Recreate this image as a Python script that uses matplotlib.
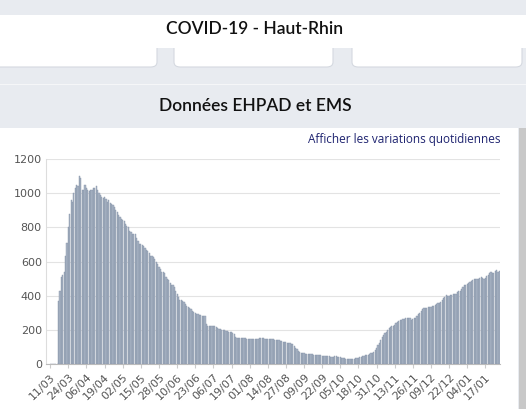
import matplotlib.pyplot as plt
from matplotlib.patches import FancyBboxPatch, Rectangle
import numpy as np

# daily values, 11/03/2020 -> 27/01/2021 (rows of 13 days, one per tick label)
values = [
    0, 0, 0, 0, 0, 0, 370, 430, 510, 520, 540, 630, 710,
    800, 880, 960, 950, 1000, 1030, 1050, 1040, 1100, 1090, 1020, 1020, 1050,
    1030, 1020, 1010, 1020, 1020, 1030, 1030, 1040, 1020, 1000, 990, 980, 970,
    975, 965, 950, 960, 940, 935, 930, 920, 900, 890, 870, 860, 850,
    845, 835, 820, 810, 800, 780, 770, 760, 760, 760, 740, 720, 705,
    700, 695, 690, 680, 670, 660, 650, 635, 630, 625, 615, 600, 585,
    570, 555, 540, 540, 530, 510, 500, 490, 475, 465, 460, 450, 430,
    410, 390, 375, 375, 370, 365, 350, 340, 335, 330, 320, 310, 305,
    300, 295, 290, 285, 285, 280, 280, 280, 235, 225, 220, 220, 220,
    220, 220, 215, 210, 205, 205, 200, 200, 200, 195, 195, 190, 185,
    185, 180, 175, 160, 155, 155, 155, 155, 150, 150, 150, 148, 146,
    145, 145, 145, 145, 145, 146, 148, 150, 150, 150, 150, 148, 148,
    148, 147, 145, 145, 145, 143, 140, 140, 138, 135, 135, 130, 128,
    128, 125, 123, 122, 120, 115, 105, 95, 85, 75, 70, 65, 65,
    62, 60, 60, 60, 60, 58, 57, 55, 55, 52, 50, 50, 50,
    48, 46, 45, 45, 44, 44, 43, 42, 42, 45, 45, 42, 40,
    40, 38, 35, 33, 32, 30, 30, 30, 30, 31, 32, 33, 35,
    37, 40, 42, 45, 48, 50, 52, 55, 58, 62, 65, 70, 80,
    95, 110, 125, 140, 160, 170, 180, 190, 200, 210, 215, 220, 225,
    230, 240, 245, 250, 255, 258, 262, 265, 268, 270, 272, 270, 260,
    262, 268, 272, 280, 290, 300, 310, 320, 325, 328, 330, 332, 335,
    335, 338, 340, 345, 350, 355, 360, 365, 375, 385, 395, 405, 400,
    400, 402, 405, 410, 410, 412, 420, 425, 430, 440, 450, 460, 465,
    470, 472, 480, 485, 490, 495, 500, 497, 495, 502, 510, 505, 500,
    505, 515, 520, 530, 540, 535, 530, 545, 550, 540, 545,
]
tick_labels = ['11/03', '24/03', '06/04', '19/04', '02/05', '15/05', '28/05',
               '10/06', '23/06', '06/07', '19/07', '01/08', '14/08', '27/08',
               '09/09', '22/09', '05/10', '18/10', '31/10', '13/11', '26/11',
               '09/12', '22/12', '04/01', '17/01']
yticks = [0, 200, 400, 600, 800, 1000, 1200]

W, H = 526, 409
fig = plt.figure(figsize=(W / 100, H / 100), dpi=100)
fig.patch.set_facecolor('#e8ebf0')

def box(x, y, w, h, fc, r=0):
    # page coords in pixels, top-left origin
    if r:
        p = FancyBboxPatch((x / W, 1 - (y + h) / H), w / W, h / H,
                           boxstyle='round,pad=0,rounding_size=0.012',
                           transform=fig.transFigure, fc=fc, ec='#d5d9e0', lw=0.8)
    else:
        p = Rectangle((x / W, 1 - (y + h) / H), w / W, h / H,
                      transform=fig.transFigure, fc=fc, ec='none')
    p.set_zorder(-5)
    fig.add_artist(p)

box(-10, 40, 167, 27, 'white', r=1)
box(174, 40, 159, 27, 'white', r=1)
box(352, 40, 170, 27, 'white', r=1)
box(0, 15, 526, 33, 'white')
box(0, 128, 518, 281, 'white')
box(519, 128, 7, 281, '#c8c8c8')
box(0, 84, 526, 1, '#f5f6f8')

fig.text(255 / W, 1 - 29 / H, 'COVID-19 - Haut-Rhin', ha='center', va='center',
         fontsize=12.5, family='Lato', weight='semibold', color='#111111')
fig.text(255 / W, 1 - 106 / H, 'Données EHPAD et EMS', ha='center', va='center',
         fontsize=12.5, family='Lato', weight='semibold', color='#111111')
fig.text(500 / W, 1 - 140 / H, 'Afficher les variations quotidiennes', ha='right',
         va='center', fontsize=8.5, family='Open Sans', color='#1f2470')

ax = fig.add_axes([46 / W, 1 - 364 / H, 454 / W, 205 / H])
ax.set_zorder(5)
ax.set_facecolor('white')
x = np.arange(len(values))
ax.bar(x, values, width=0.85, color='#a9b4c5', edgecolor='#8593a8', linewidth=0.3, zorder=2)
ax.set_xlim(-3, len(values) - 0.5)
ax.set_ylim(0, 1200)
ax.set_yticks(yticks)
ax.grid(axis='y', color='#e3e3e3', lw=0.8, zorder=0)
ax.set_xticks(np.arange(0, len(values), 13))
ax.set_xticklabels(tick_labels, rotation=45, ha='right', rotation_mode='anchor')
ax.tick_params(axis='both', labelsize=8, colors='#555555', length=0, pad=3)
ax.tick_params(axis='x', length=3, color='#cccccc')
for s in ['top', 'right']:
    ax.spines[s].set_visible(False)
ax.spines['left'].set_color('#dddddd')
ax.spines['bottom'].set_color('#bbbbbb')

fig.savefig('out.png', dpi=100, facecolor=fig.get_facecolor())
